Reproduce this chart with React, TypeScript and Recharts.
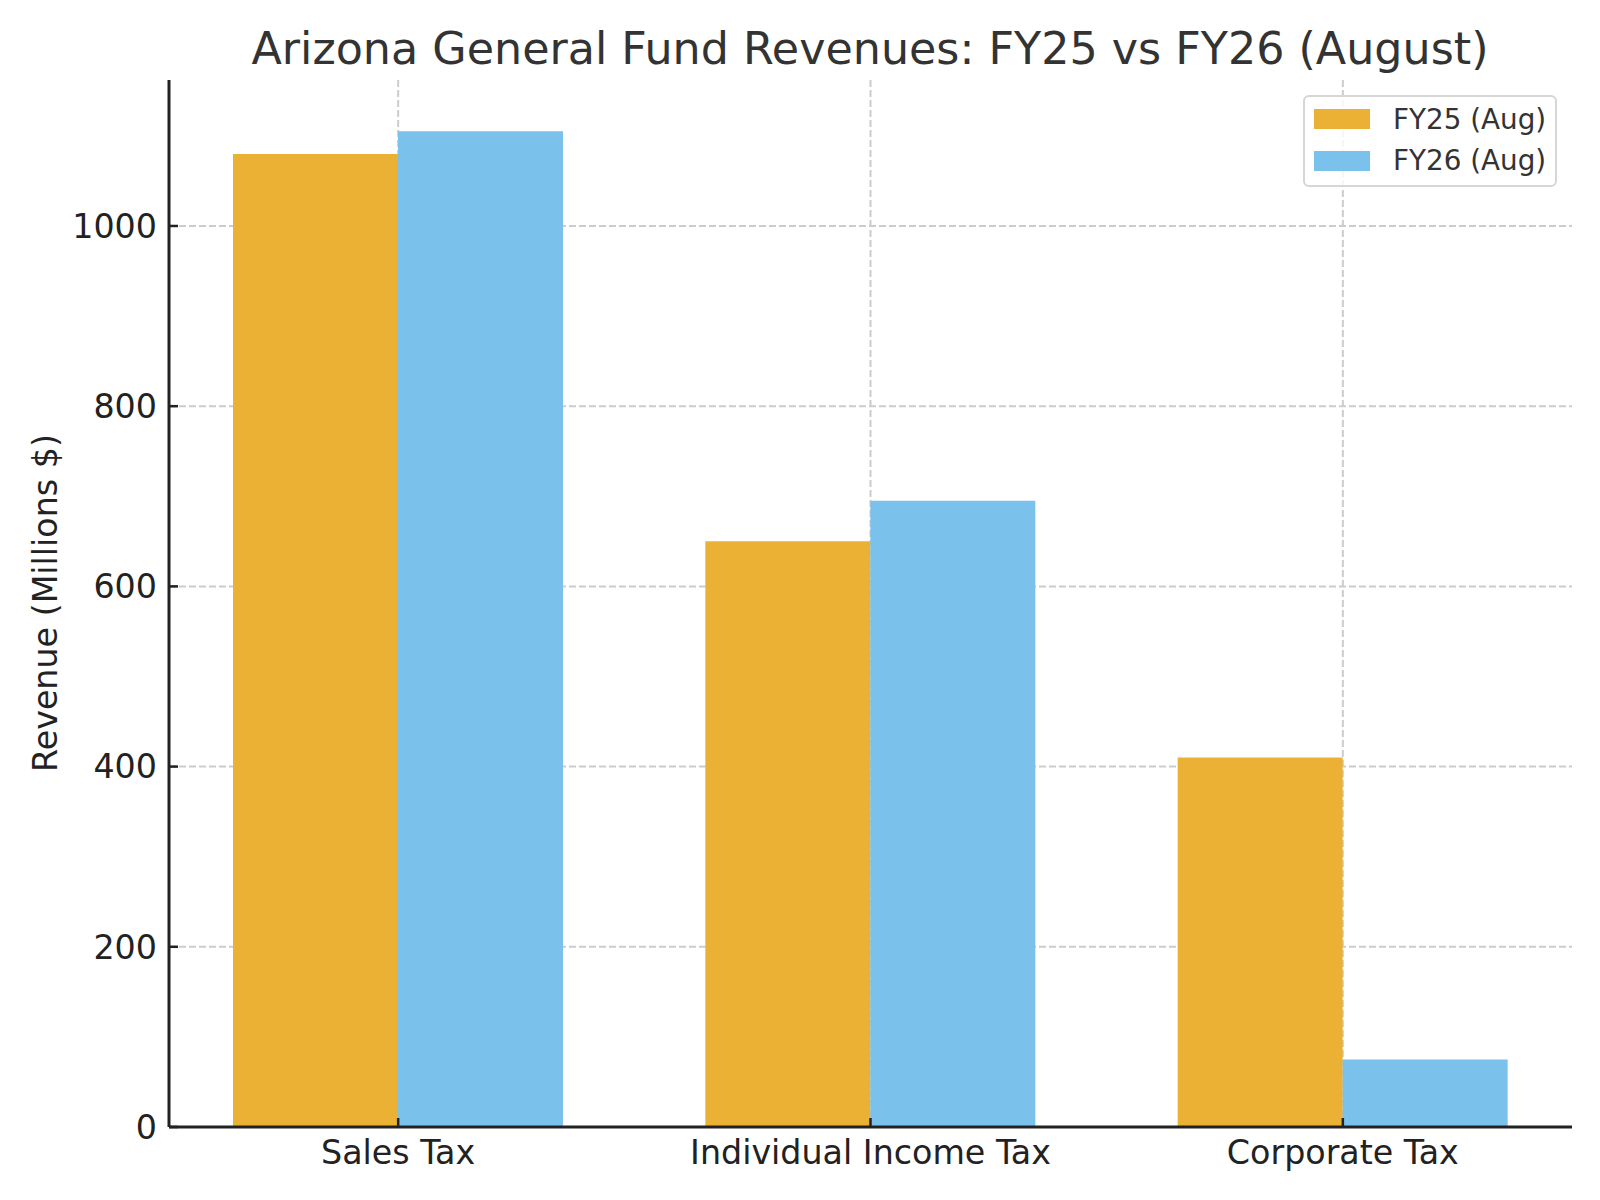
import React from "react";
import {
  BarChart,
  Bar,
  XAxis,
  YAxis,
  CartesianGrid,
  Legend,
} from "recharts";

const CATEGORIES = ["Sales Tax", "Individual Income Tax", "Corporate Tax"];
const FY25 = [1080, 650, 410];
const FY26 = [1105, 695, 75];
const Y_TICKS = [0, 200, 400, 600, 800, 1000];

const SERIES = [
  { key: "fy25", name: "FY25 (Aug)", color: "#EBB134" },
  { key: "fy26", name: "FY26 (Aug)", color: "#7AC2EC" },
];

const FONT = "'DejaVu Sans', sans-serif";

const data = CATEGORIES.map((c, i) => ({
  category: c,
  fy25: FY25[i],
  fy26: FY26[i],
}));

function LegendBox({ payload }: { payload?: any[] }) {
  const items = payload ?? [];
  return (
    <div
      style={{
        position: "relative",
        width: 254,
        height: 92,
        boxSizing: "border-box",
        border: "2px solid #d6d6d6",
        borderRadius: 6,
        background: "rgba(255,255,255,0.8)",
        fontFamily: FONT,
        fontSize: 27.8,
        color: "#333",
      }}
    >
      {items.map((item, i) => (
        <div
          key={i}
          style={{
            position: "absolute",
            left: 9,
            top: 2 + i * 41.5,
            height: 40,
            display: "flex",
            alignItems: "center",
            whiteSpace: "nowrap",
          }}
        >
          <span
            style={{
              display: "inline-block",
              width: 56,
              height: 20,
              background: item.color,
              marginRight: 23,
            }}
          />
          <span>{item.value}</span>
        </div>
      ))}
    </div>
  );
}

export default function App() {
  return (
    <div style={{ position: "absolute", left: 0, top: 0, width: 1600, height: 1200 }}>
      <BarChart
        width={1600}
        height={1200}
        data={data}
        margin={{ top: 80, right: 28, bottom: 13, left: 69 }}
        barGap={0}
        barSize={165}
      >
        {SERIES.map((s) => (
          <Bar
            key={s.key}
            dataKey={s.key}
            name={s.name}
            fill={s.color}
            isAnimationActive={false}
          />
        ))}
        <CartesianGrid
          stroke="#cccccc"
          strokeWidth={2}
          strokeDasharray="7 3"
          syncWithTicks
          zIndex={5}
        />
        <XAxis
          dataKey="category"
          height={60}
          padding={{ left: -7, right: -7 }}
          axisLine={{ stroke: "#222", strokeWidth: 3 }}
          tickLine={{ stroke: "#222", strokeWidth: 2.5 }}
          tickSize={-9}
          tickMargin={22}
          tick={{ fill: "#222", fontSize: 33.3, fontFamily: FONT }}
        />
        <YAxis
          width={100}
          domain={[0, 1162]}
          ticks={Y_TICKS}
          allowDataOverflow
          axisLine={{ stroke: "#222", strokeWidth: 3 }}
          tickLine={{ stroke: "#222", strokeWidth: 2.5 }}
          tickSize={-9}
          tickMargin={21}
          tick={{ fill: "#222", fontSize: 33.3, fontFamily: FONT }}
        />
        <Legend
          layout="horizontal"
          verticalAlign="middle"
          align="center"
          content={<LegendBox />}
          wrapperStyle={{ left: 1303, top: 95, width: 254, height: 92 }}
        />
      </BarChart>
      <svg
        width={1600}
        height={1200}
        style={{ position: "absolute", left: 0, top: 0, pointerEvents: "none" }}
      >
        <text
          x={870}
          y={64}
          textAnchor="middle"
          fontFamily={FONT}
          fontSize={44.4}
          fill="#333"
        >
          Arizona General Fund Revenues: FY25 vs FY26 (August)
        </text>
        <text
          x={57}
          y={603}
          transform="rotate(-90, 57, 603)"
          textAnchor="middle"
          fontFamily={FONT}
          fontSize={33.3}
          fill="#222"
        >
          Revenue (Millions $)
        </text>
      </svg>
    </div>
  );
}
